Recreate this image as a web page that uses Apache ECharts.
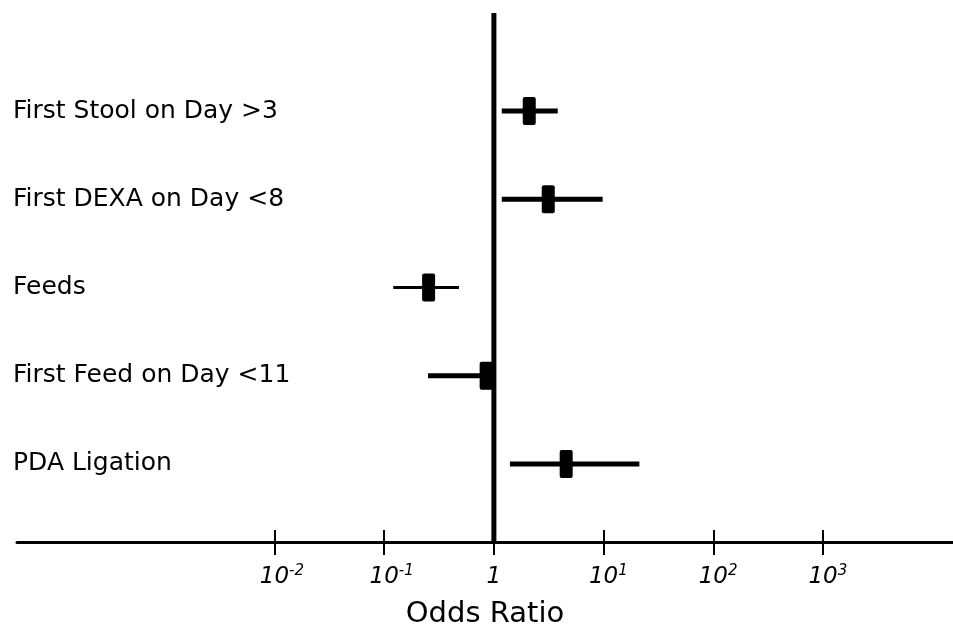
<!DOCTYPE html>
<html>
<head>
<meta charset="utf-8">
<script src="https://cdn.jsdelivr.net/npm/echarts@6/dist/echarts.min.js"></script>
<style>
  html, body { margin: 0; padding: 0; background: #fff; }
  #chart { width: 953px; height: 630px; }
</style>
</head>
<body>
<div id="chart"></div>
<script>
const factors = ['First Stool on Day >3', 'First DEXA on Day <8', 'Feeds', 'First Feed on Day <11', 'PDA Ligation'];
const oddsRatio = [2.10, 3.13, 0.254, 0.85, 4.56];
const ciLow = [1.18, 1.18, 0.121, 0.251, 1.40];
const ciHigh = [3.82, 9.8, 0.48, 1.0, 21.2];
const tickValues = [0.01, 0.1, 1, 10, 100, 1000];

// styling only: thinner whisker for the Feeds row, as in the original
const whiskerWidths = [5, 5, 3, 5, 5];

const axisMin = 4.5e-5;
const axisMax = 15300;
const font = 'DejaVu Sans';

const chart = echarts.init(document.getElementById('chart'));

function tickLabel(value) {
    const exp = Math.round(Math.log10(value));
    if (exp === 0) return '{b|1}';
    return `{g|${exp}}{b|10}{s|${exp}}`;
}

const rows = factors.map((name, i) => [i, ciLow[i], ciHigh[i], oddsRatio[i]]);

const option = {
    backgroundColor: '#fff',
    animation: false,
    grid: [
        { left: 17, right: 0, top: 13, bottom: 88, outerBoundsMode: 'none', containLabel: false },
        { left: 17, right: 0, top: 67, bottom: 122, outerBoundsMode: 'none', containLabel: false }
    ],
    xAxis: [
        {
            type: 'log', gridIndex: 0, min: axisMin, max: axisMax,
            axisLine: { show: true, lineStyle: { color: '#000', width: 3 } },
            axisTick: { show: true, inside: false, length: 13, customValues: tickValues, lineStyle: { color: '#000', width: 2 } },
            splitLine: { show: false },
            axisLabel: {
                customValues: tickValues,
                margin: 22,
                formatter: tickLabel,
                rich: {
                    b: { fontFamily: font, fontStyle: 'italic', fontSize: 23, color: '#000', lineHeight: 26 },
                    s: { fontFamily: font, fontStyle: 'italic', fontSize: 15, color: '#000', verticalAlign: 'top', lineHeight: 22 },
                    g: { fontFamily: font, fontStyle: 'italic', fontSize: 15, color: 'rgba(0,0,0,0)', lineHeight: 22 }
                }
            },
            name: 'Odds Ratio',
            nameLocation: 'middle',
            nameGap: 58,
            nameTextStyle: { fontFamily: font, fontSize: 29, color: '#000' }
        },
        {
            type: 'log', gridIndex: 1, min: axisMin, max: axisMax,
            offset: 34,
            axisLine: { show: false },
            axisTick: { show: true, inside: true, length: 12, customValues: tickValues, lineStyle: { color: '#000', width: 2 } },
            axisLabel: { show: false },
            splitLine: { show: false }
        }
    ],
    yAxis: [
        { type: 'value', gridIndex: 0, min: 0, max: 1, show: false },
        {
            type: 'category', gridIndex: 1, data: factors, inverse: true,
            axisLine: { show: false },
            axisTick: { show: false },
            splitLine: { show: false },
            axisLabel: { align: 'left', margin: 4, fontFamily: font, fontSize: 25, color: '#000' }
        }
    ],
    series: [
        {
            type: 'line',
            xAxisIndex: 0, yAxisIndex: 0,
            data: [[1, 0], [1, 1]],
            symbol: 'none',
            silent: true,
            lineStyle: { color: '#000', width: 5 }
        },
        {
            type: 'custom',
            xAxisIndex: 1, yAxisIndex: 1,
            data: rows,
            encode: { x: [1, 2, 3], y: 0 },
            renderItem(params, api) {
                const idx = api.value(0);
                const lo = api.coord([api.value(1), idx]);
                const hi = api.coord([api.value(2), idx]);
                const mid = api.coord([api.value(3), idx]);
                const bw = 13, bh = 28;
                return {
                    type: 'group',
                    children: [
                        {
                            type: 'line',
                            shape: { x1: lo[0], y1: lo[1], x2: hi[0], y2: hi[1] },
                            style: { stroke: '#000', lineWidth: whiskerWidths[params.dataIndex] }
                        },
                        {
                            type: 'rect',
                            shape: { x: mid[0] - bw / 2, y: mid[1] - bh / 2, width: bw, height: bh, r: 2 },
                            style: { fill: '#000' }
                        }
                    ]
                };
            }
        }
    ]
};

chart.setOption(option);
</script>
</body>
</html>
